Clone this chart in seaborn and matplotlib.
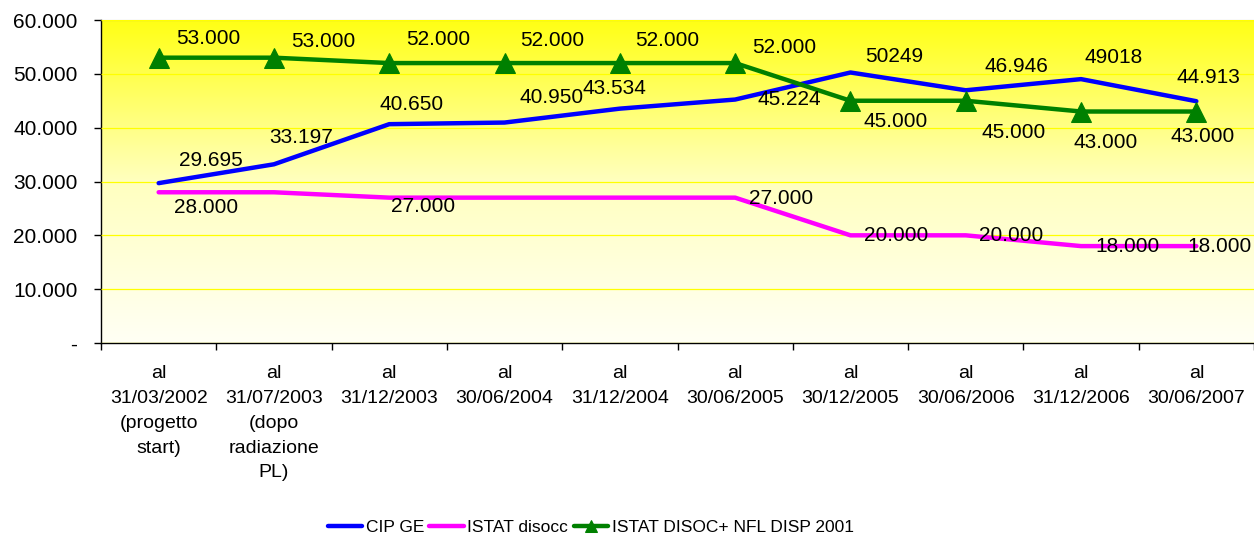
import numpy as np
import pandas as pd
import matplotlib.pyplot as plt
import seaborn as sns
from matplotlib.ticker import FuncFormatter, FixedLocator

sns.set_style("white")
plt.rcParams['font.family'] = ['Liberation Sans', 'DejaVu Sans']
plt.rcParams['text.color'] = 'black'
plt.rcParams['xtick.color'] = 'black'
plt.rcParams['ytick.color'] = 'black'

# data
categories = ["al\n31/03/2002\n(progetto\nstart)", "al\n31/07/2003\n(dopo\nradiazione\nPL)",
              "al\n31/12/2003", "al\n30/06/2004", "al\n31/12/2004", "al\n30/06/2005",
              "al\n30/12/2005", "al\n30/06/2006", "al\n31/12/2006", "al\n30/06/2007"]
cip_ge = [29695, 33197, 40650, 40950, 43534, 45224, 50249, 46946, 49018, 44913]
istat_disocc = [28000, 28000, 27000, 27000, 27000, 27000, 20000, 20000, 18000, 18000]
istat_nfl = [53000, 53000, 52000, 52000, 52000, 52000, 45000, 45000, 43000, 43000]

# data labels as printed on the chart (some missing / unformatted in the original)
cip_labels = ["29.695", "33.197", "40.650", "40.950", "43.534", "45.224", "50249", "46.946", "49018", "44.913"]
disocc_labels = ["28.000", "", "27.000", "", "", "27.000", "20.000", "20.000", "18.000", "18.000"]
nfl_labels = ["53.000", "53.000", "52.000", "52.000", "52.000", "52.000", "45.000", "45.000", "43.000", "43.000"]

# label offsets in pixels (dx, dy) - layout only
cip_off = [(52, 23), (27, 27), (22, 20), (47, 25), (-5, 20), (54, 0), (44, 16), (51, 24), (33, 22), (12, 24)]
disocc_off = [(47, -15), (0, 0), (34, -9), (0, 0), (0, 0), (46, -1), (46, 0), (45, 0), (46, 0), (23, 0)]
nfl_off = [(50, 19), (49, 16), (49, 24), (48, 23), (47, 23), (49, 16), (45, -21), (48, -32), (25, -31), (6, -25)]

df = pd.DataFrame({'x': np.arange(len(categories)),
                   'CIP GE': cip_ge, 'ISTAT disocc': istat_disocc,
                   'ISTAT DISOC+ NFL DISP 2001': istat_nfl})

fig = plt.figure(figsize=(12.54, 5.35), dpi=100)
ax = fig.add_axes([101 / 1254, 1 - 343 / 535, 1 - 101 / 1254, 323 / 535])

# yellow gradient background
grad = np.linspace(0, 1, 256).reshape(-1, 1)
cmap = plt.matplotlib.colors.LinearSegmentedColormap.from_list(
    'yel', [(1, 1, 0.96), (1, 1, 0.75), (1, 1, 0.08)])
ax.imshow(grad, aspect='auto', cmap=cmap, origin='lower',
          extent=[0, 1, 0, 1], transform=ax.transAxes, zorder=0)

series = [('CIP GE', '#0000FF', None, cip_labels, cip_off),
          ('ISTAT disocc', '#FF00FF', None, disocc_labels, disocc_off),
          ('ISTAT DISOC+ NFL DISP 2001', '#008000', '^', nfl_labels, nfl_off)]

for name, color, marker, labels, offs in series:
    sns.lineplot(data=df, x='x', y=name, ax=ax, color=color, linewidth=3.2,
                 marker=marker, markersize=14, markeredgecolor=color,
                 label=name, zorder=3)
    for xi, yi, lab, (dx, dy) in zip(df['x'], df[name], labels, offs):
        if lab:
            ax.annotate(lab, (xi, yi), xytext=(dx, dy), textcoords='offset pixels',
                        ha='center', va='center', fontsize=15, color='black', zorder=4)

ax.set_xlim(-0.5, len(categories) - 0.5)
ax.set_ylim(0, 60000)
ax.set_yticks(np.arange(0, 60001, 10000))
ax.yaxis.set_major_formatter(FuncFormatter(lambda v, p: '-' if v == 0 else f"{int(v):,}".replace(',', '.')))
ax.grid(axis='y', color='#FFFF00', linewidth=0.9)
ax.set_axisbelow(False)
for gl in ax.get_ygridlines():
    gl.set_zorder(1)

ax.set_xticks(df['x'])
ax.set_xticklabels(categories, fontsize=14, linespacing=1.6)
ax.tick_params(axis='x', which='major', length=0, pad=16)
ax.xaxis.set_minor_locator(FixedLocator(np.arange(-0.5, len(categories), 1)))
ax.tick_params(axis='x', which='minor', length=5, width=1, color='black', direction='out', bottom=True)
ax.tick_params(axis='y', length=5, width=1, color='black', direction='out', left=True, labelsize=15, pad=12)
ax.set_xlabel('')
ax.set_ylabel('')

for s in ['left', 'bottom']:
    ax.spines[s].set_color('black')
    ax.spines[s].set_linewidth(1)
ax.spines['top'].set_color('#999999')
ax.spines['right'].set_visible(False)

ax.get_legend().remove()
handles, labels = ax.get_legend_handles_labels()
fig.legend(handles, labels, loc='center', bbox_to_anchor=(0.471, 8 / 535), ncol=3,
           frameon=False, fontsize=12.5,
           handlelength=2.0, handletextpad=0.2, columnspacing=0.3, markerscale=0.6)

fig.savefig('out.png', dpi=100)
